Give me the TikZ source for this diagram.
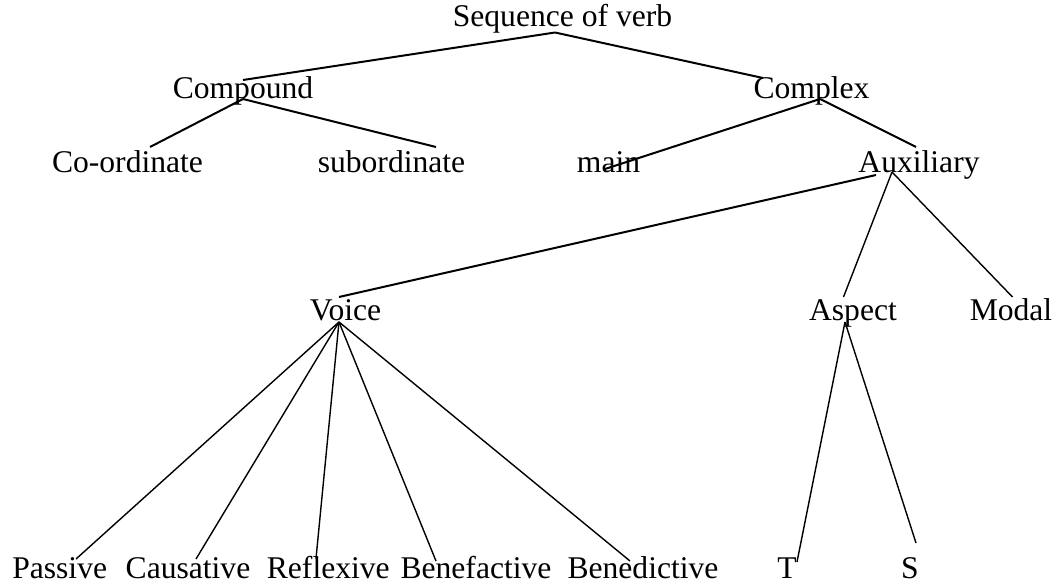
\documentclass[tikz,border=0pt]{standalone}
\usepackage{fontspec}
\setmainfont{Liberation Serif}
\begin{document}
\begin{tikzpicture}[x=1pt,y=-1pt,
  lbl/.style={anchor=base, inner sep=0pt, font=\fontsize{31.6}{38}\selectfont},
  thick edge/.style={draw=black, line width=2pt},
  thin edge/.style={draw=black, line width=1.4pt}]
\useasboundingbox (0,0) rectangle (1060,585);

% level 0
\node[lbl] (seq) at (562.5,27) {Sequence of verb};
% level 1
\node[lbl] (compound) at (243,99) {Compound};
\node[lbl] (complex) at (811.5,99) {Complex};
% level 2
\node[lbl] (coord) at (127.5,173) {Co-ordinate};
\node[lbl] (subord) at (391.5,173) {subordinate};
\node[lbl] (main) at (608.5,173) {main};
\node[lbl] (aux) at (919,173) {Auxiliary};
% level 3
\node[lbl] (voice) at (345.5,320) {Voice};
\node[lbl] (aspect) at (853,320) {Aspect};
\node[lbl] (modal) at (1011,320) {Modal};
% level 4
\node[lbl] (passive) at (59.7,578) {Passive};
\node[lbl] (causative) at (188,578) {Causative};
\node[lbl] (reflexive) at (328.3,578) {Reflexive};
\node[lbl] (benefactive) at (476,578) {Benefactive};
\node[lbl] (benedictive) at (643,578) {Benedictive};
\node[lbl] (T) at (787,578) {T};
\node[lbl] (S) at (910,578) {S};

% branches
\draw[thick edge] ([shift={(-7.5,5.5)}]seq.base) -- ([shift={(0,-19)}]compound.base);
\draw[thick edge] ([shift={(-7.5,5.5)}]seq.base) -- ([shift={(-48.5,-21)}]complex.base);
\draw[thick edge] (compound.base) -- ([shift={(22.5,-26)}]coord.base);
\draw[thick edge] (compound.base) -- ([shift={(44.5,-26)}]subord.base);
\draw[thick edge] ([shift={(8.5,0)}]complex.base) -- ([shift={(-3.5,-4)}]main.base);
\draw[thick edge] ([shift={(8.5,0)}]complex.base) -- ([shift={(-3,-26)}]aux.base);
\draw[thick edge] ([shift={(-43,2)}]aux.base) -- ([shift={(-6.5,-23)}]voice.base);
\draw[thin edge] ([shift={(-27,-1)}]aux.base) -- ([shift={(-9.5,-23)}]aspect.base);
\draw[thin edge] ([shift={(-27,-1)}]aux.base) -- ([shift={(1.5,-23)}]modal.base);
\draw[thin edge] ([shift={(-6.5,2)}]voice.base) -- ([shift={(16.3,-19)}]passive.base);
\draw[thin edge] ([shift={(-6.5,2)}]voice.base) -- ([shift={(8,-19)}]causative.base);
\draw[thin edge] ([shift={(-6.5,2)}]voice.base) -- ([shift={(-12.3,-19.5)}]reflexive.base);
\draw[thin edge] ([shift={(-6.5,2)}]voice.base) -- ([shift={(-40,-17)}]benefactive.base);
\draw[thin edge] ([shift={(-6.5,2)}]voice.base) -- ([shift={(-13,-17)}]benedictive.base);
\draw[thin edge] ([shift={(-8,2)}]aspect.base) -- ([shift={(10,-16)}]T.base);
\draw[thin edge] ([shift={(-8,2)}]aspect.base) -- ([shift={(6,-35)}]S.base);
\end{tikzpicture}
\end{document}
